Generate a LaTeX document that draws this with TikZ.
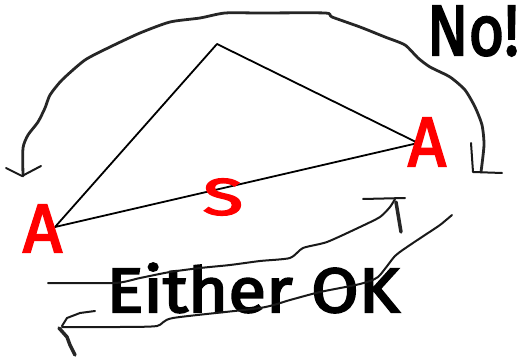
\documentclass[tikz,border=0pt]{standalone}
\usepackage{fontspec}
\setmainfont{Fira Sans}
\newfontfamily\lblfont[FakeBold=3]{Fira Sans}
\usepackage{graphicx}
\begin{document}
\begin{tikzpicture}[x=1pt,y=-1pt,
  tri/.style={line width=1.8pt,line join=round},
  hand/.style={line width=2.8pt,black!85,line cap=round,line join=round},
  handthin/.style={line width=2pt,black!90,line cap=round,line join=round},
  redlbl/.style={text=red,inner sep=0pt,font=\lblfont},
  blklbl/.style={text=black,inner sep=0pt,font=\lblfont}]
\useasboundingbox (0,0) rectangle (519,358);
% triangle vertices
\coordinate (T) at (217,44);
\coordinate (L) at (55,227);
\coordinate (R) at (418,143);
\draw[tri] (L) -- (T) -- (R) -- cycle;
% labels
\node[redlbl] (A1) at (42.5,228.5) {\resizebox{39pt}{47pt}{A}};
\node[redlbl] (A2) at (427,142) {\resizebox{38pt}{48pt}{A}};
\node[redlbl] (S) at (223,197) {\resizebox{40pt}{36pt}{S}};
\node[blklbl] (no) at (473,31) {\resizebox{92pt}{49pt}{No!}};
\node[blklbl] (ok) at (253,288) {\resizebox{293pt}{49pt}{Either OK}};
% top arc (No!)
\draw[hand] plot[smooth,tension=0.4] coordinates {(23,176) (23,148) (28,135) (38,122) (45,108) (50,95) (62,80) (85,60) (110,47) (140,33) (170,22) (200,18) (225,13) (260,13) (325,13) (332,17) (360,27) (385,37) (405,45) (418,58) (430,67) (450,77) (465,90) (475,107) (482,125) (484,145) (481,172)};
\draw[handthin] (6,168) -- (22,176) -- (41,166);
\draw[handthin] (471,143) -- (473,172) -- (502,173);
% lower arrow 1 (up-right)
\draw[handthin] plot[smooth,tension=0.4] coordinates {(48,283) (115,283) (140,278) (170,272) (200,268) (230,265) (260,261) (290,258) (303,248) (327,242) (360,227) (380,217) (390,207) (395,199)};
\draw[handthin] (363,199) -- (405,198);
\draw[hand,line width=3.5pt] (396,202) -- (401,232);
% lower arrow 2 (down-left)
\draw[handthin] plot[smooth,tension=0.4] coordinates {(452,215) (440,225) (425,235) (410,245) (395,256) (378,277) (360,284) (320,292) (290,300) (260,308) (173,318) (157,326) (120,327) (62,327)};
\draw[handthin] (62,326) -- (67,318) -- (80,313) -- (95,311);
\draw[hand,line width=3.5pt] (59,328) -- (67,337) -- (70,345) -- (75,355);
\end{tikzpicture}
\end{document}
